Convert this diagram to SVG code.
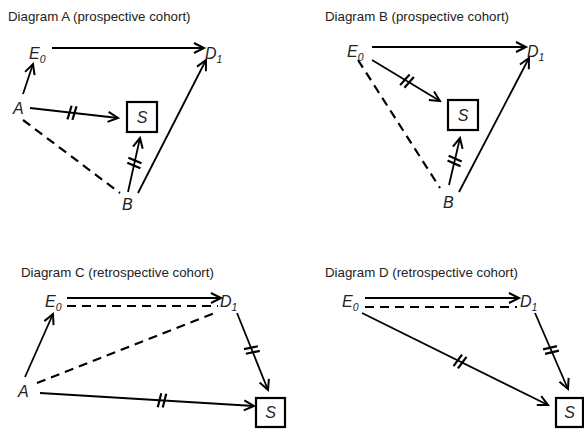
<svg xmlns="http://www.w3.org/2000/svg" xmlns:xlink="http://www.w3.org/1999/xlink" width="584" height="429" viewBox="0 0 584 429">
<style>
.title{font-family:"Liberation Sans",Arial,sans-serif;font-size:13.3px;fill:#222}
.lbl{font-family:"Liberation Sans",Arial,sans-serif;font-size:16px;font-style:italic;fill:#222}
.sub{font-size:10.5px}
.e{stroke:#000;stroke-width:1.8;fill:none}
.arr{marker-end:url(#ah)}
.d{stroke:#000;stroke-width:2.2;fill:none;stroke-dasharray:9 6}
.box{fill:#fff;stroke:#000;stroke-width:2.2}
</style>
<defs>
<marker id="ah" markerUnits="userSpaceOnUse" markerWidth="16" markerHeight="16" refX="12" refY="8" orient="auto">
<path d="M2,3 L12,8 L2,13" fill="none" stroke="#000" stroke-width="2" stroke-linejoin="miter"/>
</marker>
<g id="bars" stroke="#000" stroke-width="2.2">
<line x1="-3.8" y1="7" x2="-1.2" y2="-7"/>
<line x1="1.2" y1="7" x2="3.8" y2="-7"/>
</g>
</defs>
<rect width="584" height="429" fill="#fff"/>

<!-- Diagram A -->
<text class="title" x="8" y="21">Diagram A (prospective cohort)</text>
<g id="connectors-A">
<line class="e arr" x1="52" y1="48" x2="204" y2="48"/>
<line class="e arr" x1="23" y1="94" x2="33" y2="64"/>
<line class="e arr" x1="30" y1="108" x2="118" y2="118"/>
<use xlink:href="#bars" transform="translate(72,112.8) rotate(6.5)"/>
<line class="d" x1="23" y1="120" x2="120" y2="193"/>
<line class="e arr" x1="128" y1="192" x2="140" y2="138"/>
<use xlink:href="#bars" transform="translate(134.4,163) rotate(-77.5)"/>
<line class="e arr" x1="138" y1="193" x2="206" y2="60"/>
</g>
<g id="A-E0"><text class="lbl" x="29" y="59">E<tspan class="sub" dy="4">0</tspan></text></g>
<g id="A-D1"><text class="lbl" x="205" y="59">D<tspan class="sub" dy="4">1</tspan></text></g>
<g id="A-A"><text class="lbl" x="13" y="114">A</text></g>
<g id="A-B"><text class="lbl" x="122" y="210">B</text></g>
<g id="A-S"><rect class="box" x="127" y="102" width="30" height="30"/><text class="lbl" x="142" y="123" text-anchor="middle">S</text></g>

<!-- Diagram B -->
<text class="title" x="325" y="21">Diagram B (prospective cohort)</text>
<g id="connectors-B">
<line class="e arr" x1="372" y1="47" x2="526" y2="47"/>
<line class="e arr" x1="372" y1="60" x2="440" y2="101"/>
<use xlink:href="#bars" transform="translate(407,81.1) rotate(31.1)"/>
<line class="d" x1="358" y1="60" x2="440" y2="188"/>
<line class="e arr" x1="449" y1="185" x2="460" y2="138"/>
<use xlink:href="#bars" transform="translate(454.6,161) rotate(-76.8)"/>
<line class="e arr" x1="459" y1="192" x2="529" y2="58"/>
</g>
<g id="B-E0"><text class="lbl" x="347" y="57">E<tspan class="sub" dy="4">0</tspan></text></g>
<g id="B-D1"><text class="lbl" x="527" y="57">D<tspan class="sub" dy="4">1</tspan></text></g>
<g id="B-B"><text class="lbl" x="443" y="208">B</text></g>
<g id="B-S"><rect class="box" x="448" y="100" width="30" height="30"/><text class="lbl" x="463" y="121" text-anchor="middle">S</text></g>

<!-- Diagram C -->
<text class="title" x="21" y="277">Diagram C (retrospective cohort)</text>
<g id="connectors-C">
<line class="e arr" x1="67" y1="298" x2="221" y2="298"/>
<line class="d" x1="67" y1="306" x2="218" y2="306"/>
<line class="e arr" x1="25" y1="377" x2="53" y2="314"/>
<line class="d" x1="37" y1="383" x2="217" y2="312"/>
<line class="e arr" x1="40" y1="393" x2="254" y2="406"/>
<use xlink:href="#bars" transform="translate(162,400.4) rotate(3.5)"/>
<line class="e arr" x1="237" y1="313" x2="268" y2="390"/>
<use xlink:href="#bars" transform="translate(251.9,350) rotate(68.1)"/>
</g>
<g id="C-E0"><text class="lbl" x="45" y="307">E<tspan class="sub" dy="4">0</tspan></text></g>
<g id="C-D1"><text class="lbl" x="220" y="307">D<tspan class="sub" dy="4">1</tspan></text></g>
<g id="C-A"><text class="lbl" x="18" y="397">A</text></g>
<g id="C-S"><rect class="box" x="256" y="398" width="29" height="29"/><text class="lbl" x="270.5" y="418" text-anchor="middle">S</text></g>

<!-- Diagram D -->
<text class="title" x="325" y="277">Diagram D (retrospective cohort)</text>
<g id="connectors-D">
<line class="e arr" x1="365" y1="298" x2="519" y2="298"/>
<line class="d" x1="365" y1="307" x2="517" y2="307"/>
<line class="e arr" x1="362" y1="313" x2="548" y2="405"/>
<use xlink:href="#bars" transform="translate(460,361.5) rotate(26.3)"/>
<line class="e arr" x1="535" y1="313" x2="568" y2="389"/>
<use xlink:href="#bars" transform="translate(551,350) rotate(66.5)"/>
</g>
<g id="D-E0"><text class="lbl" x="342" y="307">E<tspan class="sub" dy="4">0</tspan></text></g>
<g id="D-D1"><text class="lbl" x="520" y="307">D<tspan class="sub" dy="4">1</tspan></text></g>
<g id="D-S"><rect class="box" x="556" y="398" width="27" height="29"/><text class="lbl" x="569.5" y="418" text-anchor="middle">S</text></g>
</svg>
